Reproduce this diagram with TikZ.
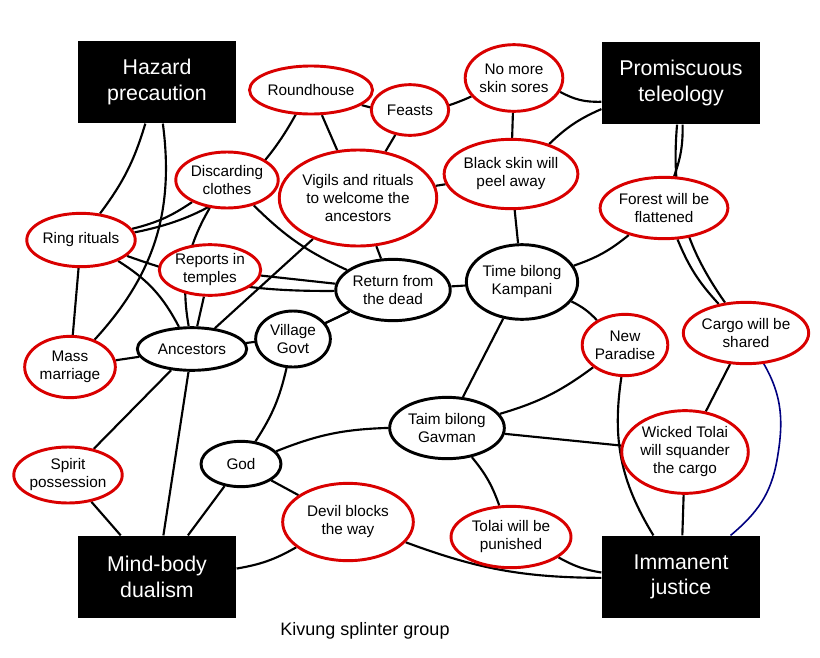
\documentclass[tikz,border=0pt]{standalone}
\usepackage{fontspec}
\setmainfont{Liberation Sans}
\usetikzlibrary{shapes.geometric}
\pgfdeclarelayer{bg}\pgfdeclarelayer{edges}\pgfsetlayers{bg,edges,main}
\tikzset{
 boxn/.style={fill=black,text=white,minimum width=119pt,minimum height=62pt,align=center,font=\fontsize{16}{19}\selectfont},
 redn/.style={ellipse,draw=red!85!black,line width=2.2pt,fill=white,align=center,font=\fontsize{11.5}{13.5}\selectfont,inner sep=0pt},
 blkn/.style={ellipse,draw=black,line width=2.2pt,fill=white,align=center,font=\fontsize{11.5}{13.5}\selectfont,inner sep=0pt},
 lk/.style={line width=1.6pt,black},
}
\begin{document}
\begin{tikzpicture}[x=0.75pt,y=-0.75pt]
\begin{pgfonlayer}{bg}
\fill[white] (0,0) rectangle (820,657);
\end{pgfonlayer}
\useasboundingbox (0,0) rectangle (820,657);
% nodes
\node[boxn] (haz) at (157,82) {Hazard\\precaution};
\node[boxn] (pro) at (681,83) {Promiscuous\\teleology};
\node[boxn] (mbd) at (157,577) {Mind-body\\dualism};
\node[boxn] (imm) at (681,577) {Immanent\\justice};
\node[redn,minimum width=82pt,minimum height=36pt] (rh) at (311,90) {Roundhouse};
\node[redn,minimum width=58pt,minimum height=38pt] (fe) at (410,110) {Feasts};
\node[redn,minimum width=68pt,minimum height=50pt] (ns) at (514,78) {No more\\skin sores};
\node[redn,minimum width=72pt,minimum height=42pt] (dc) at (227,180) {Discarding\\clothes};
\node[redn,minimum width=102pt,minimum height=72pt] (vg) at (358,198) {Vigils and rituals\\to welcome the\\ancestors};
\node[redn,minimum width=76pt,minimum height=52pt] (bs) at (511,174) {Black skin will\\peel away};
\node[redn,minimum width=84pt,minimum height=46pt] (fo) at (664,208) {Forest will be\\flattened};
\node[redn,minimum width=64pt,minimum height=40pt] (rr) at (81,240) {Ring rituals};
\node[redn,minimum width=76pt,minimum height=38pt] (rt) at (210,270) {Reports in\\temples};
\node[blkn,minimum width=68pt,minimum height=46pt] (rd) at (393,290) {Return from\\the dead};
\node[blkn,minimum width=80pt,minimum height=56pt] (tk) at (522,282) {Time bilong\\Kampani};
\node[redn,minimum width=64pt,minimum height=46pt] (np) at (625,345) {New\\Paradise};
\node[redn,minimum width=90pt,minimum height=46pt] (cs) at (746,333) {Cargo will be\\shared};
\node[redn,minimum width=68pt,minimum height=46pt] (mm) at (70,367) {Mass\\marriage};
\node[blkn,minimum width=82pt,minimum height=32pt] (an) at (192,349) {Ancestors};
\node[blkn,minimum width=56pt,minimum height=42pt] (vgv) at (293,339) {Village\\Govt};
\node[blkn,minimum width=86pt,minimum height=46pt] (tg) at (447,428) {Taim bilong\\Gavman};
\node[redn,minimum width=72pt,minimum height=62pt] (wt) at (685,452) {Wicked Tolai\\will squander\\the cargo};
\node[blkn,minimum width=60pt,minimum height=34pt] (god) at (241,464) {God};
\node[redn,minimum width=80pt,minimum height=42pt] (sp) at (68,475) {Spirit\\possession};
\node[redn,minimum width=98pt,minimum height=58pt] (dv) at (348,522) {Devil blocks\\the way};
\node[redn,minimum width=90pt,minimum height=46pt] (tp) at (511,537) {Tolai will be\\punished};
\node (cap) at (365,631) {\fontsize{13.5}{16}\selectfont Kivung splinter group};
% connectors
\begin{pgfonlayer}{edges}
\foreach \a/\b/\bend in {
 haz/rr/10, haz/mm/25, rh/vg/0, rh/rr/25, rh/ns/-20, fe/vg/0, ns/bs/0, ns/pro/-15, bs/pro/10, bs/vg/0, bs/tk/0,
 dc/rd/-10, dc/rr/10, dc/an/-20, vg/an/0, vg/rd/0, rr/rd/-10, rr/an/15, rr/mm/0, rt/an/0, rt/rd/0,
 rd/tk/0, rd/an/10, rd/vgv/0, tk/fo/-10, tk/np/10, tk/tg/0, fo/pro/-10, fo/cs/-10, pro/cs/-20, cs/wt/0,
 np/tg/10, np/imm/-20, tg/wt/0, tg/tp/10, tg/god/-10, wt/imm/0, tp/imm/-10, an/sp/0, an/mbd/0, an/mm/0,
 god/vgv/-10, god/dv/0, god/mbd/0, dv/mbd/10, dv/imm/-10, mbd/sp/0}
 { \draw[lk] (\a) to[bend left=\bend] (\b); }
\draw[line width=1.2pt,blue!50!black] (cs) to[out=-60,in=80] (777,460) to[out=-100,in=40] (imm);
\end{pgfonlayer}
\end{tikzpicture}
\end{document}
